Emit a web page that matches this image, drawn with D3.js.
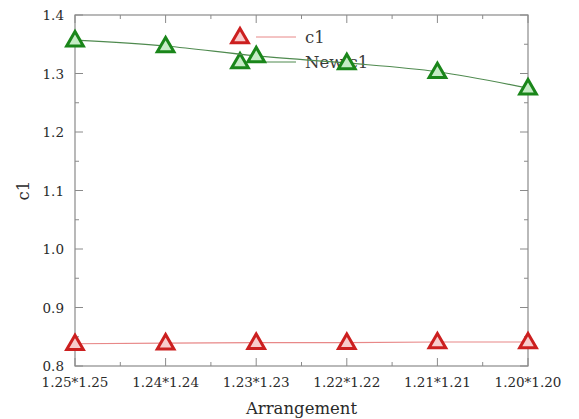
<!DOCTYPE html>
<html><head><meta charset="utf-8">
<script src="https://cdn.jsdelivr.net/npm/d3@7"></script>
<style>body{margin:0;background:#fff}svg{display:block}</style>
</head><body>
<script>
const xValues = [1.25, 1.24, 1.23, 1.22, 1.21, 1.20];
const xTickLabels = ["1.25*1.25","1.24*1.24","1.23*1.23","1.22*1.22","1.21*1.21","1.20*1.20"];
const c1 = [0.838, 0.839, 0.840, 0.840, 0.841, 0.841];
const newC1 = [1.357, 1.347, 1.330, 1.318, 1.303, 1.275];
const yTicks = [0.8, 0.9, 1.0, 1.1, 1.2, 1.3, 1.4];
const seriesNames = ["c1", "New c1"];

const W = 579, H = 419;
const m = {l:75, r:51, t:15, b:53};
const svg = d3.select("body").append("svg").attr("width", W).attr("height", H);
const x = d3.scaleLinear().domain([1.25, 1.20]).range([m.l, W - m.r]);
const y = d3.scaleLinear().domain([0.8, 1.4]).range([H - m.b, m.t]);
const font = "'DejaVu Serif', serif";
const axisCol = "#8a8a8a";
const textCol = "#2a2a2a";

// frame
svg.append("rect").attr("x", m.l).attr("y", m.t).attr("width", W-m.l-m.r).attr("height", H-m.t-m.b)
  .attr("fill", "none").attr("stroke", axisCol).attr("stroke-width", 1.2);

// ticks
const yMinor = d3.range(0.85, 1.4, 0.1);
const xMinor = d3.range(0, 5).map(i => (xValues[i] + xValues[i+1]) / 2);
const tk = svg.append("g").attr("stroke", axisCol).attr("stroke-width", 1);
yTicks.forEach(v => {
  tk.append("line").attr("x1", m.l).attr("x2", m.l+8).attr("y1", y(v)).attr("y2", y(v));
  tk.append("line").attr("x1", W-m.r).attr("x2", W-m.r-8).attr("y1", y(v)).attr("y2", y(v));
});
yMinor.forEach(v => {
  tk.append("line").attr("x1", m.l).attr("x2", m.l+4).attr("y1", y(v)).attr("y2", y(v));
  tk.append("line").attr("x1", W-m.r).attr("x2", W-m.r-4).attr("y1", y(v)).attr("y2", y(v));
});
xValues.forEach(v => {
  tk.append("line").attr("x1", x(v)).attr("x2", x(v)).attr("y1", H-m.b).attr("y2", H-m.b-8);
  tk.append("line").attr("x1", x(v)).attr("x2", x(v)).attr("y1", m.t).attr("y2", m.t+8);
});
xMinor.forEach(v => {
  tk.append("line").attr("x1", x(v)).attr("x2", x(v)).attr("y1", H-m.b).attr("y2", H-m.b-4);
  tk.append("line").attr("x1", x(v)).attr("x2", x(v)).attr("y1", m.t).attr("y2", m.t+4);
});

// tick labels
svg.append("g").selectAll("text").data(yTicks).join("text")
  .attr("x", m.l-11).attr("y", d => y(d)+5).attr("text-anchor", "end")
  .attr("font-family", font).attr("font-size", 13.5).attr("fill", textCol)
  .text(d => d3.format(".1f")(d));
svg.append("g").selectAll("text").data(xValues).join("text")
  .attr("x", d => x(d)).attr("y", H-m.b+21).attr("text-anchor", "middle")
  .attr("font-family", font).attr("font-size", 13.5).attr("fill", textCol)
  .text((d,i) => xTickLabels[i]);

// axis titles
svg.append("text").attr("x", (m.l + W - m.r)/2).attr("y", H-5).attr("text-anchor", "middle")
  .attr("font-family", font).attr("font-size", 16.5).attr("fill", textCol).text("Arrangement");
svg.append("text").attr("transform", `translate(29,${(m.t + H - m.b)/2}) rotate(-90)`)
  .attr("text-anchor", "middle").attr("font-family", font).attr("font-size", 16.5).attr("fill", textCol).text("c1");

const tri = d3.symbol().type(d3.symbolTriangle).size(120);
const series = [
  {name: seriesNames[0], vals: c1, stroke: "#cc1f1f", fill: "#f8cccc", line: "#e88888", curve: d3.curveLinear},
  {name: seriesNames[1], vals: newC1, stroke: "#1a861a", fill: "#c6ecc6", line: "#4f8a4f", curve: d3.curveMonotoneX}
];

// legend
series.forEach((s, i) => {
  const ly = 37 + i*25;
  svg.append("line").attr("x1", 256).attr("x2", 296).attr("y1", ly).attr("y2", ly)
    .attr("stroke", s.line).attr("stroke-width", 1);
  svg.append("path").attr("d", tri).attr("transform", `translate(240,${ly+1})`)
    .attr("fill", s.fill).attr("stroke", s.stroke).attr("stroke-width", 3);
  svg.append("text").attr("x", 305).attr("y", ly+6).attr("font-family", font).attr("font-size", 16.5)
    .attr("fill", "#3a3a3a").text(s.name);
});

series.forEach(s => {
  const line = d3.line().x((d,i) => x(xValues[i])).y(d => y(d)).curve(s.curve);
  svg.append("path").attr("d", line(s.vals)).attr("fill", "none").attr("stroke", s.line).attr("stroke-width", 1.2);
  svg.append("g").selectAll("path").data(s.vals).join("path")
    .attr("d", tri).attr("transform", (d,i) => `translate(${x(xValues[i])},${y(d)+1})`)
    .attr("fill", s.fill).attr("stroke", s.stroke).attr("stroke-width", 3);
});
</script>
</body></html>
